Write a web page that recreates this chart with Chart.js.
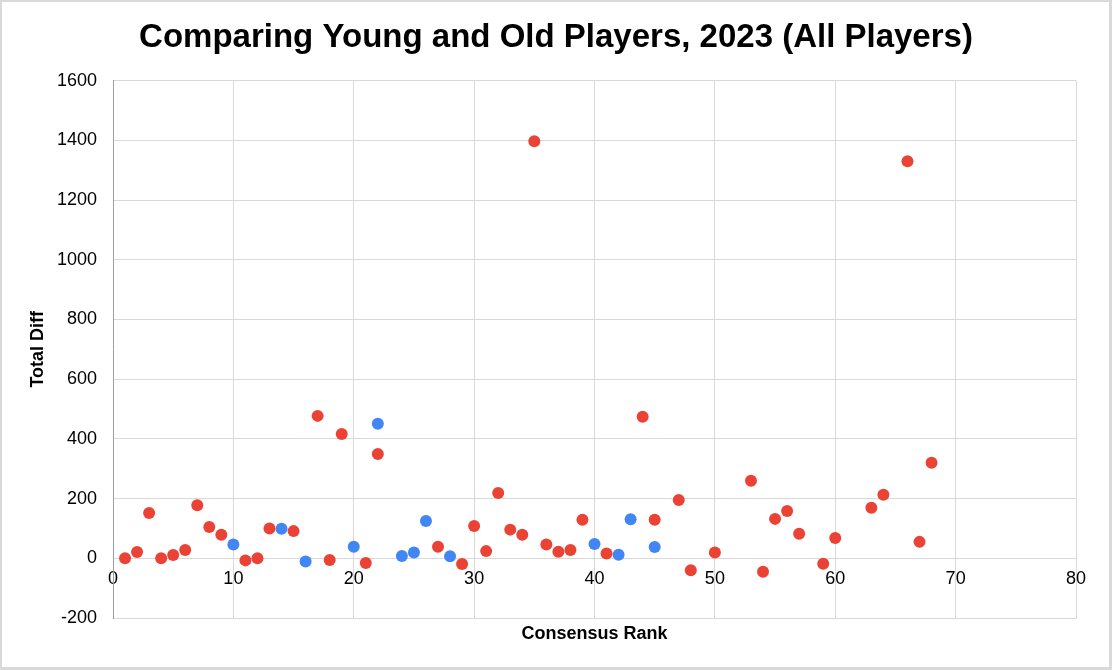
<!DOCTYPE html>
<html>
<head>
<meta charset="utf-8">
<script src="https://cdn.jsdelivr.net/npm/chart.js@4.4.1/dist/chart.umd.min.js"></script>
<style>
  html, body { margin: 0; padding: 0; background: #fff; }
  #wrap { width: 1112px; height: 670px; position: relative; }
  canvas { display: block; }
</style>
</head>
<body>
<div id="wrap"><canvas id="c" width="1112" height="670"></canvas></div>
<script>
// ---- Data ----
const chartTitle = "Comparing Young and Old Players, 2023 (All Players)";
const xAxisTitle = "Consensus Rank";
const yAxisTitle = "Total Diff";

// Red series
const redRanks = [1,2,3,4,5,6,7,8,9,11,12,13,15,17,18,19,21,22,27,29,30,31,32,33,34,35,36,37,38,39,41,44,45,47,48,50,53,54,55,56,57,59,60,63,64,66,67,68];
const redDiffs = [0,21,152,0,11,28,178,105,79,-7,0,100,91,477,-6,416,-16,349,39,-19,108,24,219,96,79,1397,46,22,28,129,16,474,129,195,-40,19,260,-45,132,158,82,-18,68,169,213,1330,55,320];

// Blue series
const blueRanks = [10,14,16,20,22,24,25,26,28,40,42,43,45];
const blueDiffs = [46,99,-11,39,451,8,19,125,7,48,12,131,38];

// Axis tick settings
const xTicks = [0,10,20,30,40,50,60,70,80];
const yTicks = [-200,0,200,400,600,800,1000,1200,1400,1600];

// ---- Build ----
const toPoints = (xs, ys) => xs.map((x, i) => ({ x: x, y: ys[i] }));
const FONT = '"Liberation Sans", Arial, Helvetica, sans-serif';

const bgPlugin = {
  id: 'bg',
  beforeDraw(chart) {
    const ctx = chart.ctx;
    const w = chart.width, h = chart.height;
    ctx.save();
    ctx.fillStyle = '#d9d9d9';
    ctx.fillRect(0, 0, w, h);
    ctx.fillStyle = '#ffffff';
    ctx.fillRect(2, 2, w - 5, h - 5);
    ctx.restore();
  }
};

new Chart(document.getElementById('c'), {
  type: 'scatter',
  data: {
    datasets: [
      {
        label: 'Red',
        data: toPoints(redRanks, redDiffs),
        backgroundColor: '#ea4335',
        borderWidth: 0,
        pointRadius: 6,
        pointHoverRadius: 6
      },
      {
        label: 'Blue',
        data: toPoints(blueRanks, blueDiffs),
        backgroundColor: '#4285f4',
        borderWidth: 0,
        pointRadius: 6,
        pointHoverRadius: 6
      }
    ]
  },
  options: {
    responsive: false,
    animation: false,
    events: [],
    layout: { padding: { top: 0, left: 0, right: 0, bottom: 0 } },
    plugins: {
      legend: { display: false },
      tooltip: { enabled: false },
      title: {
        display: true,
        text: chartTitle,
        color: '#000',
        font: { family: FONT, size: 33, weight: 'bold', lineHeight: 1.2 },
        padding: { top: 18, bottom: 23 }
      }
    },
    scales: {
      x: {
        type: 'linear',
        position: 'bottom',
        min: 0, max: 80,
        afterBuildTicks(scale) { scale.ticks = xTicks.map(v => ({ value: v })); },
        afterFit(scale) { scale.height = 52; },
        ticks: { display: false },
        grid: { color: '#d9d9d9', drawTicks: false, lineWidth: 1 },
        border: { display: true, color: '#d9d9d9' },
        title: {
          display: true,
          text: xAxisTitle,
          color: '#000',
          font: { family: FONT, size: 18, weight: 'bold', lineHeight: 1.2 },
          padding: { top: 0, bottom: 25 }
        }
      },
      x2: {
        type: 'linear',
        axis: 'x',
        position: { y: 0 },
        min: 0, max: 80,
        afterBuildTicks(scale) { scale.ticks = xTicks.map(v => ({ value: v })); },
        ticks: {
          color: '#000',
          padding: 10,
          maxRotation: 0,
          font: { family: FONT, size: 18 }
        },
        grid: { display: false, drawTicks: false },
        border: { display: false }
      },
      y: {
        type: 'linear',
        position: 'left',
        min: -200, max: 1600,
        afterBuildTicks(scale) { scale.ticks = yTicks.map(v => ({ value: v })); },
        afterFit(scale) { scale.width = 113; },
        ticks: {
          color: '#000',
          padding: 16,
          font: { family: FONT, size: 18 },
          callback: (v) => String(v)
        },
        grid: { color: '#d9d9d9', drawTicks: false, lineWidth: 1 },
        border: { display: true, color: '#9e9e9e', width: 1 },
        title: {
          display: true,
          text: yAxisTitle,
          color: '#000',
          font: { family: FONT, size: 18, weight: 'bold', lineHeight: 1.2 },
          padding: { top: 27, bottom: 0 }
        }
      },
      yRightSpacer: {
        type: 'linear',
        position: 'right',
        min: -200, max: 1600,
        afterFit(scale) { scale.width = 36; },
        ticks: { display: false },
        grid: { display: false, drawTicks: false },
        border: { display: false }
      }
    }
  },
  plugins: [bgPlugin]
});
</script>
</body>
</html>
